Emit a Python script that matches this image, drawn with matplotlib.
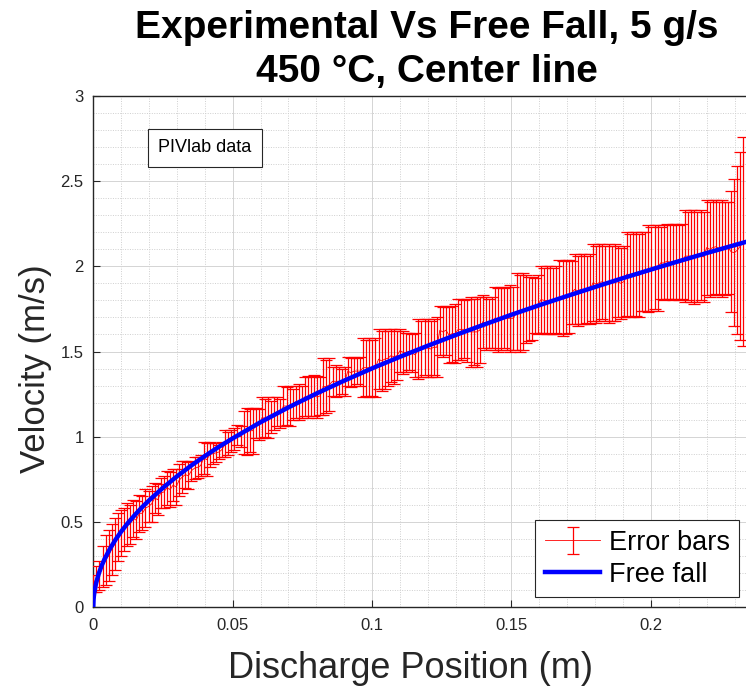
import numpy as np
import matplotlib
matplotlib.use("Agg")
import matplotlib.pyplot as plt
from matplotlib.ticker import MultipleLocator

plt.rcParams['font.family'] = ['Liberation Sans', 'DejaVu Sans']

# ---------------- data ----------------
bar_step = 0.0011  # spacing of the PIV error bars along the centre line (m)

v_upper = [
    0.19, 0.24, 0.27, 0.36, 0.42, 0.45, 0.49, 0.52, 0.55, 0.57,
    0.58, 0.61, 0.60, 0.63, 0.62, 0.66, 0.65, 0.69, 0.68, 0.71,
    0.73, 0.72, 0.76, 0.77, 0.80, 0.79, 0.81, 0.81, 0.84, 0.855,
    0.855, 0.85, 0.86, 0.88, 0.88, 0.89, 0.97, 0.96, 0.97, 0.96,
    0.96, 0.95, 0.97, 1.04, 1.03, 1.04, 1.05, 1.07, 1.06, 1.15,
    1.17, 1.16, 1.17, 1.17, 1.16, 1.23, 1.22, 1.23, 1.21, 1.23,
    1.23, 1.22, 1.30, 1.29, 1.30, 1.28, 1.30, 1.31, 1.30, 1.35,
    1.355, 1.35, 1.36, 1.355, 1.35, 1.46, 1.45, 1.46, 1.41, 1.42,
    1.41, 1.40, 1.41, 1.47, 1.46, 1.47, 1.46, 1.47, 1.58, 1.57,
    1.58, 1.57, 1.58, 1.63, 1.62, 1.63, 1.62, 1.63, 1.63, 1.62,
    1.63, 1.62, 1.61, 1.61, 1.60, 1.61, 1.69, 1.68, 1.69, 1.69,
    1.68, 1.69, 1.70, 1.77, 1.76, 1.77, 1.76, 1.77, 1.78, 1.81,
    1.81, 1.80, 1.81, 1.82, 1.81, 1.82, 1.82, 1.83, 1.82, 1.81,
    1.82, 1.88, 1.87, 1.88, 1.87, 1.88, 1.89, 1.88, 1.96, 1.95,
    1.96, 1.95, 1.94, 1.94, 1.93, 1.95, 2.00, 1.99, 2.00, 2.00,
    1.99, 2.00, 2.04, 2.03, 2.04, 2.04, 2.03, 2.07, 2.06, 2.07,
    2.07, 2.06, 2.07, 2.13, 2.12, 2.13, 2.13, 2.12, 2.13, 2.12,
    2.13, 2.12, 2.11, 2.12, 2.20, 2.19, 2.20, 2.20, 2.19, 2.20,
    2.20, 2.24, 2.23, 2.24, 2.24, 2.23, 2.24, 2.25, 2.24, 2.25,
    2.25, 2.24, 2.25, 2.33, 2.32, 2.33, 2.33, 2.32, 2.33, 2.32,
    2.39, 2.38, 2.39, 2.39, 2.38, 2.39, 2.38, 2.38, 2.44, 2.51,
    2.59, 2.67, 2.76,
]

v_lower = [
    0.09, 0.09, 0.10, 0.12, 0.13, 0.15, 0.19, 0.22, 0.27, 0.30,
    0.33, 0.36, 0.37, 0.41, 0.40, 0.44, 0.45, 0.47, 0.50, 0.50,
    0.55, 0.54, 0.58, 0.58, 0.60, 0.59, 0.62, 0.60, 0.65, 0.67,
    0.70, 0.69, 0.74, 0.75, 0.76, 0.77, 0.78, 0.77, 0.82, 0.84,
    0.85, 0.87, 0.88, 0.88, 0.89, 0.91, 0.92, 0.95, 0.94, 0.90,
    0.89, 0.91, 0.90, 0.99, 0.98, 0.99, 1.00, 0.99, 1.02, 1.04,
    1.06, 1.05, 1.06, 1.07, 1.06, 1.10, 1.11, 1.10, 1.11, 1.12,
    1.11, 1.12, 1.12, 1.11, 1.13, 1.13, 1.14, 1.15, 1.24, 1.23,
    1.24, 1.25, 1.24, 1.30, 1.29, 1.30, 1.31, 1.30, 1.23, 1.24,
    1.23, 1.24, 1.23, 1.28, 1.27, 1.28, 1.30, 1.32, 1.31, 1.33,
    1.38, 1.37, 1.38, 1.39, 1.38, 1.35, 1.34, 1.35, 1.36, 1.35,
    1.35, 1.36, 1.35, 1.48, 1.47, 1.48, 1.43, 1.44, 1.43, 1.45,
    1.45, 1.46, 1.44, 1.41, 1.42, 1.41, 1.43, 1.52, 1.51, 1.52,
    1.52, 1.51, 1.50, 1.51, 1.52, 1.51, 1.50, 1.51, 1.51, 1.50,
    1.51, 1.55, 1.56, 1.57, 1.61, 1.60, 1.61, 1.61, 1.60, 1.60,
    1.60, 1.61, 1.60, 1.59, 1.60, 1.61, 1.66, 1.66, 1.65, 1.66,
    1.66, 1.67, 1.66, 1.68, 1.67, 1.68, 1.69, 1.68, 1.67, 1.68,
    1.68, 1.70, 1.69, 1.70, 1.71, 1.70, 1.70, 1.71, 1.70, 1.74,
    1.74, 1.73, 1.74, 1.75, 1.74, 1.81, 1.80, 1.81, 1.81, 1.80,
    1.81, 1.80, 1.81, 1.79, 1.80, 1.79, 1.78, 1.79, 1.80, 1.79,
    1.83, 1.82, 1.83, 1.84, 1.83, 1.82, 1.83, 1.84, 1.73, 1.65,
    1.60, 1.57, 1.53,
]

ff_x = [0.0, 0.0001, 0.0002, 0.0005, 0.001, 0.002, 0.003, 0.004, 0.006, 0.008,
        0.010, 0.0125, 0.015, 0.0175, 0.020, 0.025, 0.030, 0.035, 0.040, 0.045,
        0.050, 0.060, 0.070, 0.080, 0.090, 0.100, 0.110, 0.120, 0.130, 0.140,
        0.150, 0.160, 0.170, 0.180, 0.190, 0.200, 0.210, 0.220, 0.234]
ff_v = [0.0, 0.044, 0.063, 0.099, 0.140, 0.198, 0.243, 0.280, 0.343, 0.396,
        0.443, 0.495, 0.542, 0.586, 0.626, 0.700, 0.767, 0.829, 0.886, 0.940,
        0.990, 1.085, 1.172, 1.253, 1.329, 1.401, 1.469, 1.534, 1.597, 1.657,
        1.716, 1.772, 1.826, 1.879, 1.931, 1.981, 2.030, 2.078, 2.143]

title_lines = ["Experimental Vs Free Fall, 5 g/s", "450 \u00b0C, Center line"]
x_label = "Discharge Position (m)"
y_label = "Velocity (m/s)"
x_ticks = [0, 0.05, 0.1, 0.15, 0.2]
x_tick_labels = ["0", "0.05", "0.1", "0.15", "0.2"]
y_ticks = [0, 0.5, 1, 1.5, 2, 2.5, 3]
y_tick_labels = ["0", "0.5", "1", "1.5", "2", "2.5", "3"]
legend_labels = ["Error bars", "Free fall"]
note_text = "PIVlab data"

# ---------------- figure ----------------
W, H = 746, 698
fig = plt.figure(figsize=(W / 100, H / 100), dpi=100)
fig.patch.set_facecolor('white')

ax_l, ax_r, ax_t, ax_b = 93.3, 746.0, 96.0, 607.0
ax = fig.add_axes([ax_l / W, 1 - ax_b / H, (ax_r - ax_l) / W, (ax_b - ax_t) / H])

up = np.array(v_upper)
lo = np.array(v_lower)
xb = np.arange(len(up)) * bar_step
mid = (up + lo) / 2.0

eb = ax.errorbar(xb, mid, yerr=[mid - lo, up - mid], fmt='-', color='#ff0000',
                 lw=0.6, elinewidth=0.9, capsize=4.5, capthick=0.9, zorder=3)
ln, = ax.plot(ff_x, ff_v, color=(0, 0, 1), lw=3.2, zorder=4)

xmax = (ax_r - ax_l) / 2788.0
ax.set_xlim(0, xmax)
ax.set_ylim(0, 3)

ax.set_xticks(x_ticks)
ax.set_xticklabels(x_tick_labels)
ax.set_yticks(y_ticks)
ax.set_yticklabels(y_tick_labels)
ax.xaxis.set_minor_locator(MultipleLocator(0.01))
ax.yaxis.set_minor_locator(MultipleLocator(0.1))

dark = '#262626'
ax.tick_params(which='major', direction='in', length=5, width=0.8, colors=dark,
               labelsize=12, top=False, right=False)
ax.tick_params(axis='x', which='major', pad=8)
ax.tick_params(axis='y', which='major', pad=7)
ax.tick_params(which='minor', length=0, top=False, right=False)

ax.grid(which='major', color='#d4d4d4', lw=0.7, ls='-', zorder=0)
ax.grid(which='minor', color='#cfcfcf', lw=0.7, ls=(0, (1, 1.5)), zorder=0)
ax.set_axisbelow(True)

for s in ['left', 'bottom', 'top']:
    ax.spines[s].set_color(dark)
    ax.spines[s].set_linewidth(1.0)
ax.spines['right'].set_visible(False)

ax.set_xlabel(x_label, fontsize=26, color=dark)
ax.set_ylabel(y_label, fontsize=25, color=dark)
ax.xaxis.set_label_coords(0.5 - 9 / (ax_r - ax_l), -(668 - ax_b) / (ax_b - ax_t), transform=ax.transAxes)
ax.yaxis.set_label_coords(-(ax_l - 36) / (ax_r - ax_l), 0.5 - 17 / (ax_b - ax_t), transform=ax.transAxes)
ax.xaxis.label.set_va('center')
ax.yaxis.label.set_va('center')

fig.text(427 / W, 1 - 28 / H, title_lines[0], ha='center', va='center',
         fontsize=28, fontweight='bold', color='black')
fig.text(427 / W, 1 - 72 / H, title_lines[1], ha='center', va='center',
         fontsize=28, fontweight='bold', color='black')

# PIVlab annotation box
fig.text(205 / W, 1 - 148 / H, note_text, ha='center', va='center', fontsize=13,
         color='black', zorder=10,
         bbox=dict(boxstyle='square,pad=0.6', facecolor='white', edgecolor=dark, lw=0.8))

leg = ax.legend([eb, ln], legend_labels, loc='lower right',
                bbox_to_anchor=(739 / W, 1 - 597 / H), bbox_transform=fig.transFigure,
                borderaxespad=0, fontsize=19.5, frameon=True, fancybox=False,
                framealpha=1, edgecolor=dark, handlelength=2.05, handletextpad=0.3,
                labelspacing=0.22, borderpad=0.35)
leg.get_frame().set_linewidth(0.8)
leg.set_zorder(10)

fig.savefig('out.png', dpi=100, facecolor='white')
